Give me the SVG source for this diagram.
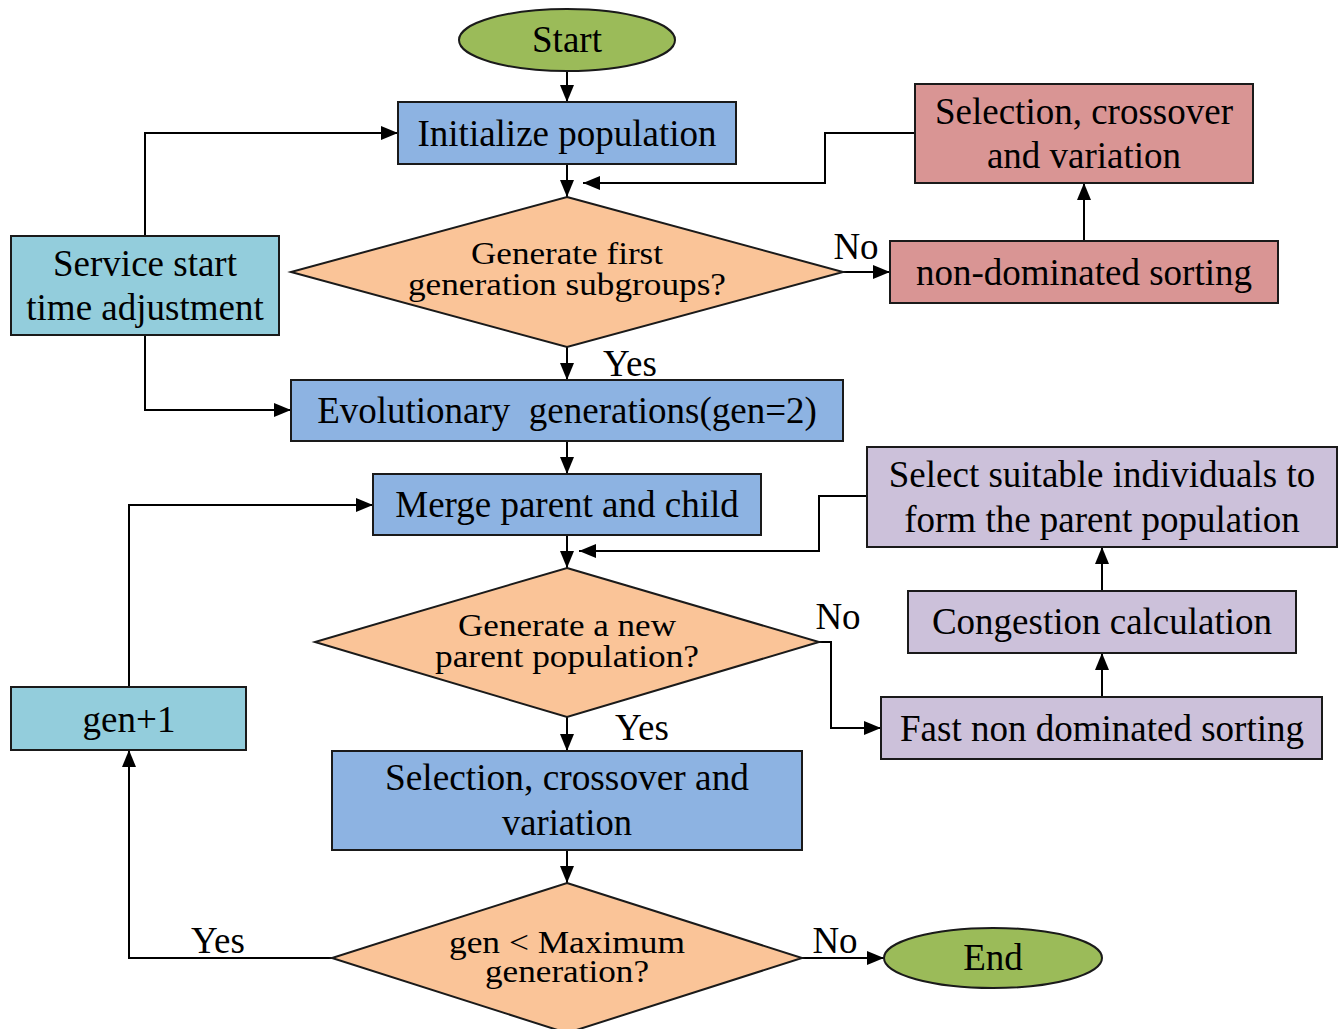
<svg xmlns="http://www.w3.org/2000/svg" width="1338" height="1029" viewBox="0 0 1338 1029">
<defs>
<marker id="ah" markerUnits="userSpaceOnUse" markerWidth="18" markerHeight="14" refX="17" refY="7" orient="auto">
<path d="M0,0 L17,7 L0,14 Z" fill="#000"/>
</marker>
<style>
.n{stroke:#1a1a1a;stroke-width:2}
.g{fill:#9BBB59}.b{fill:#8DB3E2}.o{fill:#FAC498}.c{fill:#93CDDC}.r{fill:#D99594}.p{fill:#CCC1DA}
text{font-family:"Liberation Serif","Times New Roman",serif;font-size:37px;fill:#000;text-anchor:middle}
text.d{font-size:32px}
.e{fill:none;stroke:#000;stroke-width:2}
.a{marker-end:url(#ah)}
</style>
</defs>
<rect width="1338" height="1029" fill="#fff"/>
<g id="connectors">
<path class="e a" d="M567,71 V102"/>
<path class="e a" d="M567,164 V197"/>
<path class="e a" d="M145,236 V133 H398"/>
<path class="e a" d="M145,335 V410 H291"/>
<path class="e a" d="M843,272 H890"/>
<path class="e a" d="M1084,241 V183"/>
<path class="e a" d="M915,133 H825 V183 H583"/>
<path class="e a" d="M567,347 V380"/>
<path class="e a" d="M567,441 V474"/>
<path class="e a" d="M567,535 V568"/>
<path class="e a" d="M867,496 H819 V551 H579"/>
<path class="e a" d="M819,642 H831 V728 H881"/>
<path class="e a" d="M1102,697 V653"/>
<path class="e a" d="M1102,591 V547"/>
<path class="e a" d="M567,717 V751"/>
<path class="e a" d="M567,850 V883"/>
<path class="e a" d="M802,958 H884"/>
<path class="e a" d="M332,958 H129 V750"/>
<path class="e a" d="M129,687 V505 H373"/>
<text x="856" y="259">No</text>
<text x="630" y="376">Yes</text>
<text x="838" y="629">No</text>
<text x="642" y="740">Yes</text>
<text x="835" y="953">No</text>
<text x="218" y="953">Yes</text>
</g>
<g id="start"><ellipse class="n g" cx="567" cy="40" rx="108" ry="31"/><text x="567" y="52">Start</text></g>
<g id="init"><rect class="n b" x="398" y="102" width="338" height="62"/><text x="567" y="146">Initialize population</text></g>
<g id="dec1"><polygon class="n o" points="567,197 843,272 567,347 291,272"/><text class="d" x="567" y="264" textLength="192" lengthAdjust="spacingAndGlyphs">Generate first</text><text class="d" x="567" y="295" textLength="318" lengthAdjust="spacingAndGlyphs">generation subgroups?</text></g>
<g id="service"><rect class="n c" x="11" y="236" width="268" height="99"/><text x="145" y="276">Service start</text><text x="145" y="320">time adjustment</text></g>
<g id="nds"><rect class="n r" x="890" y="241" width="388" height="62"/><text x="1084" y="285">non-dominated sorting</text></g>
<g id="sel1"><rect class="n r" x="915" y="84" width="338" height="99"/><text x="1084" y="124">Selection, crossover</text><text x="1084" y="168">and variation</text></g>
<g id="evo"><rect class="n b" x="291" y="380" width="552" height="61"/><text x="567" y="423" xml:space="preserve">Evolutionary  generations(gen=2)</text></g>
<g id="merge"><rect class="n b" x="373" y="474" width="388" height="61"/><text x="567" y="517">Merge parent and child</text></g>
<g id="dec2"><polygon class="n o" points="567,568 819,642 567,717 315,642"/><text class="d" x="567" y="636" textLength="218" lengthAdjust="spacingAndGlyphs">Generate a new</text><text class="d" x="567" y="667" textLength="264" lengthAdjust="spacingAndGlyphs">parent population?</text></g>
<g id="selectsuit"><rect class="n p" x="867" y="447" width="470" height="100"/><text x="1102" y="487">Select suitable individuals to</text><text x="1102" y="532">form the parent population</text></g>
<g id="cong"><rect class="n p" x="908" y="591" width="388" height="62"/><text x="1102" y="634">Congestion calculation</text></g>
<g id="fast"><rect class="n p" x="881" y="697" width="441" height="62"/><text x="1102" y="741">Fast non dominated sorting</text></g>
<g id="sel2"><rect class="n b" x="332" y="751" width="470" height="99"/><text x="567" y="790" textLength="364" lengthAdjust="spacingAndGlyphs">Selection, crossover and</text><text x="567" y="835" textLength="130" lengthAdjust="spacingAndGlyphs">variation</text></g>
<g id="dec3"><polygon class="n o" points="567,883 802,958 567,1033 332,958"/><text class="d" x="567" y="953" textLength="236" lengthAdjust="spacingAndGlyphs">gen &lt; Maximum</text><text class="d" x="567" y="982" textLength="164" lengthAdjust="spacingAndGlyphs">generation?</text></g>
<g id="end"><ellipse class="n g" cx="993" cy="958" rx="109" ry="30"/><text x="993" y="970">End</text></g>
<g id="gen1"><rect class="n c" x="11" y="687" width="235" height="63"/><text x="129" y="732">gen+1</text></g>
</svg>
